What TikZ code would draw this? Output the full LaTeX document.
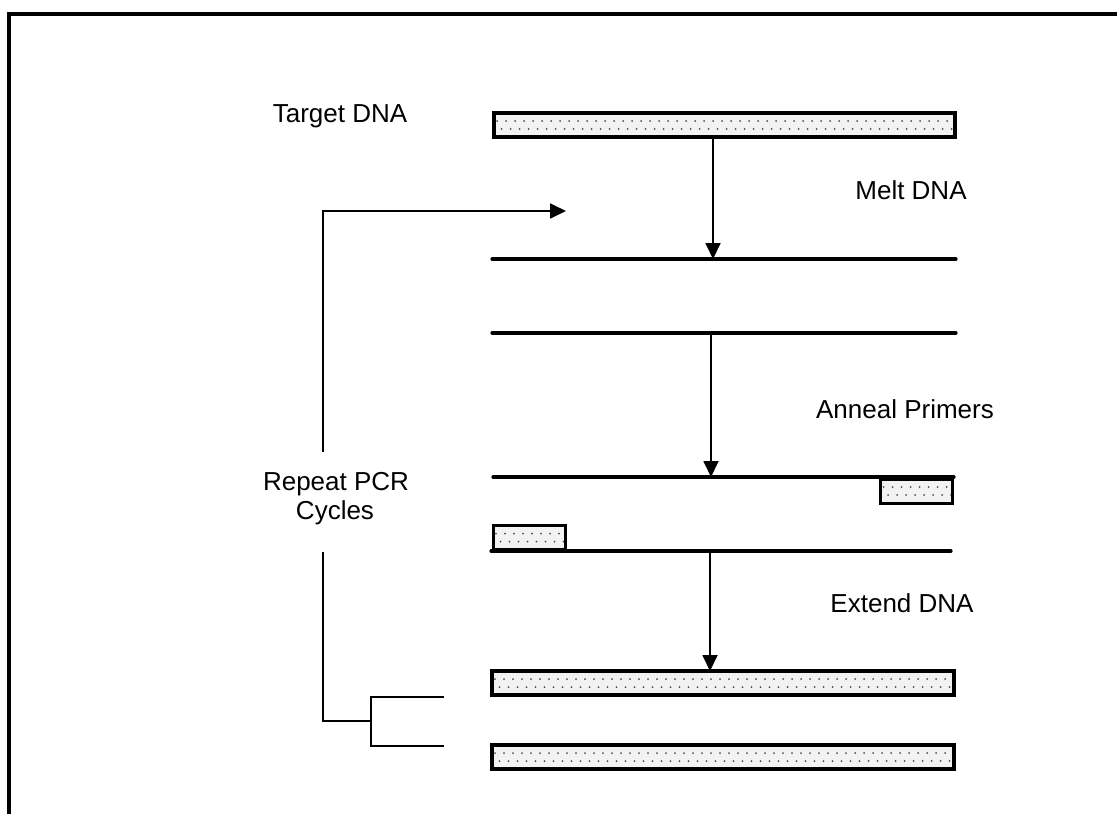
\documentclass[tikz,border=0pt]{standalone}
\usepackage{fontspec}
\setmainfont{Liberation Sans}
\usetikzlibrary{arrows.meta,calc}
\definecolor{dotc}{gray}{0.3}
\definecolor{barfill}{gray}{0.95}
\begin{document}
\begin{tikzpicture}[x=1pt,y=-1pt,
  lbl/.style={font=\fontsize{26}{29}\selectfont, anchor=base, inner sep=0pt},
  dotted bar/.style={draw, line width=4pt, fill=barfill, inner sep=0pt, outer sep=0pt,
    minimum width=#1, minimum height=24pt,
    path picture={\foreach \k in {0,...,60}{
      \fill[dotc] ($(path picture bounding box.north west)+(\k*9+3,8)$) circle (1.0);
      \fill[dotc] ($(path picture bounding box.north west)+(\k*9+7.5,16)$) circle (1.0);}}},
  primer/.style={dotted bar=72pt, line width=3pt, minimum height=24pt},
  strand/.style={line width=3.2pt, line cap=round},
  thin/.style={line width=1.8pt},
  arr/.style={thin, -{Triangle[length=16pt,width=15pt]}},
  frame/.style={line width=3.5pt}]
\useasboundingbox (0,0) rectangle (1117,814);
% frame
\coordinate (fr1) at (1117,14);
\coordinate (fr2) at (9,14);
\coordinate (fr3) at (9,814);
\draw[frame] (fr1) -- (fr2) -- (fr3);

% bars
\node[dotted bar=461pt] (b1) at (724.5,125) {};
\node[dotted bar=462pt] (b2) at (723,683) {};
\node[dotted bar=462pt] (b3) at (723,757) {};

% strands
\coordinate (s1l) at (492,259); \coordinate (s1r) at (956,259);
\coordinate (s2l) at (492,333); \coordinate (s2r) at (956,333);
\coordinate (s3l) at (493,477); \coordinate (s3r) at (954,477);
\coordinate (s4l) at (491,551); \coordinate (s4r) at (951,551);
\draw[strand] (s1l) -- (s1r);
\draw[strand] (s2l) -- (s2r);
\draw[strand] (s3l) -- (s3r);
\draw[strand] (s4l) -- (s4r);

% primers
\node[primer] (p1) at (916.5,491) {};
\node[primer] (p2) at (529,537.5) {};

% step arrows
\coordinate (m1) at (713,0);
\coordinate (m2) at (711,0);
\coordinate (m3) at (710,0);
\draw[arr] (m1 |- b1.south) -- (m1 |- s1l);
\draw[arr] (m2 |- s2l) -- (m2 |- s3l);
\draw[arr] (m3 |- s4l) -- (m3 |- b2.north);

% labels
\node[lbl] (t0) at (340,122) {Target DNA};
\node[lbl] (t1) at (911,199) {Melt DNA};
\node[lbl] (t2) at (905,418) {Anneal Primers};
\node[lbl] (t3) at (902,612) {Extend DNA};
\node[lbl] (r1) at (336,490) {Repeat PCR};
\node[lbl] (r2) at (335,519) {Cycles};

% repeat loop
\coordinate (rtip) at (566,211);
\coordinate (rc) at (323,211);
\coordinate (rtop) at (323,452);
\coordinate (rbot) at (323,552);
\coordinate (rj) at (323,721);
\coordinate (bj) at (371,721);
\coordinate (bu) at (371,697);
\coordinate (bd) at (371,746);
\coordinate (bue) at (444,697);
\coordinate (bde) at (444,746);
\draw[arr] (rtop) -- (rc) -- (rtip);
\draw[thin] (rbot) -- (rj) -- (bj);
\draw[thin] (bue) -- (bu) -- (bd) -- (bde);
\end{tikzpicture}
\end{document}
